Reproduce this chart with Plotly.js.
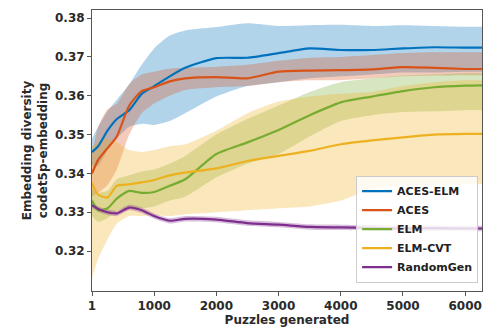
<!DOCTYPE html>
<html>
<head>
<meta charset="utf-8">
<script src="https://cdn.plot.ly/plotly-3.0.1.min.js"></script>
<style>html,body{margin:0;padding:0;background:#fff;}#chart{width:487px;height:332px;}</style>
</head>
<body>
<div id="chart"></div>
<script>
const xs = [1, 100, 250, 400, 600, 800, 1000, 1250, 1500, 2000, 2500, 3000, 3500, 4000, 4500, 5000, 5500, 6000, 6270];

const names = ["ACES-ELM", "ACES", "ELM", "ELM-CVT", "RandomGen"];
const yTitle = "Embedding diversity<br>codet5p-embedding";
const xTitle = "Puzzles generated";

const acesElmMean  = [0.3455,0.347,0.351,0.354,0.3563,0.3605,0.3625,0.365,0.3672,0.3697,0.3698,0.371,0.3722,0.3718,0.3718,0.3722,0.3725,0.3724,0.3724];
const acesElmUpper = [0.349,0.352,0.356,0.359,0.363,0.368,0.3722,0.3755,0.3768,0.3777,0.3787,0.378,0.3782,0.3783,0.378,0.3782,0.378,0.3778,0.3778];
const acesElmLower = [0.342,0.342,0.346,0.349,0.352,0.3528,0.3525,0.3535,0.3555,0.3598,0.3625,0.3635,0.3645,0.365,0.3655,0.366,0.366,0.3662,0.3662];

const acesMean  = [0.340,0.3435,0.3465,0.3495,0.3575,0.3612,0.3622,0.3637,0.3645,0.3648,0.3645,0.3662,0.3665,0.3666,0.3668,0.3674,0.3672,0.3669,0.3669];
const acesUpper = [0.345,0.352,0.3565,0.358,0.363,0.3655,0.3662,0.367,0.3672,0.3675,0.368,0.369,0.3698,0.370,0.3705,0.371,0.3712,0.3712,0.3712];
const acesLower = [0.334,0.335,0.337,0.341,0.350,0.3555,0.358,0.3600,0.3615,0.3622,0.3625,0.3635,0.364,0.364,0.3645,0.365,0.3652,0.3653,0.3653];

const elmMean  = [0.333,0.3305,0.331,0.3335,0.3355,0.335,0.3352,0.3368,0.3385,0.345,0.348,0.3512,0.355,0.3583,0.3598,0.3612,0.3622,0.3626,0.3627];
const elmUpper = [0.336,0.335,0.3355,0.3385,0.3395,0.3405,0.341,0.3425,0.3445,0.350,0.354,0.3575,0.361,0.3635,0.3645,0.3652,0.3655,0.3658,0.3658];
const elmLower = [0.329,0.3275,0.3285,0.3305,0.331,0.331,0.3315,0.333,0.334,0.339,0.3425,0.345,0.3495,0.3535,0.355,0.3558,0.356,0.3563,0.3563];

const cvtMean  = [0.3375,0.3345,0.3338,0.3368,0.3372,0.3377,0.3383,0.3395,0.3402,0.3413,0.3432,0.3445,0.3458,0.3475,0.3485,0.3493,0.350,0.3502,0.3502];
const cvtUpper = [0.347,0.348,0.349,0.348,0.346,0.3455,0.346,0.347,0.3475,0.351,0.3555,0.3585,0.3598,0.3605,0.361,0.3625,0.3635,0.364,0.364];
const cvtLower = [0.313,0.318,0.323,0.327,0.329,0.329,0.3292,0.329,0.3295,0.330,0.3305,0.331,0.3315,0.333,0.336,0.3368,0.337,0.3372,0.3372];

const randMean  = [0.3318,0.3308,0.330,0.3297,0.3312,0.3305,0.329,0.3278,0.3283,0.3281,0.3272,0.3268,0.3262,0.3261,0.326,0.3258,0.3259,0.3258,0.3258];
const randUpper = [0.3326,0.3315,0.3307,0.3304,0.3319,0.3312,0.3297,0.3285,0.329,0.3288,0.3279,0.3275,0.3269,0.3268,0.3267,0.3265,0.3266,0.3265,0.3265];
const randLower = [0.3310,0.3301,0.3293,0.329,0.3305,0.3298,0.3283,0.3271,0.3276,0.3274,0.3265,0.3261,0.3255,0.3254,0.3253,0.3251,0.3252,0.3251,0.3251];

const colors = ["#0072BD", "#D95319", "#77AC30", "#EDB120", "#7E2F8E"];
const fills  = ["rgba(0,114,189,0.3)", "rgba(217,83,25,0.3)", "rgba(119,172,48,0.3)", "rgba(237,177,32,0.3)", "rgba(126,47,142,0.3)"];

const series = [
  [acesElmMean, acesElmUpper, acesElmLower],
  [acesMean, acesUpper, acesLower],
  [elmMean, elmUpper, elmLower],
  [cvtMean, cvtUpper, cvtLower],
  [randMean, randUpper, randLower]
];

const traces = [];
series.forEach((s, i) => {
  traces.push({x: xs, y: s[2], type: 'scatter', mode: 'lines', line: {width: 0, shape: 'spline', smoothing: 0.6}, showlegend: false, hoverinfo: 'skip'});
  traces.push({x: xs, y: s[1], type: 'scatter', mode: 'lines', line: {width: 0, shape: 'spline', smoothing: 0.6}, fill: 'tonexty', fillcolor: fills[i], showlegend: false, hoverinfo: 'skip'});
});
series.forEach((s, i) => {
  traces.push({x: xs, y: s[0], type: 'scatter', mode: 'lines', name: names[i], line: {color: colors[i], width: 2.2, shape: 'spline', smoothing: 0.6}});
});

const font = {family: 'DejaVu Sans', size: 12, color: '#2a2a2a', weight: 'bold'};
const layout = {
  width: 487, height: 332,
  margin: {l: 92, r: 5, t: 10, b: 41},
  paper_bgcolor: '#fff', plot_bgcolor: '#fff',
  showlegend: true,
  xaxis: {
    range: [1, 6270], tickvals: [1, 1000, 2000, 3000, 4000, 5000, 6000],
    ticktext: ['1', '1000', '2000', '3000', '4000', '5000', '6000'],
    showgrid: false, zeroline: false, showline: true, mirror: true, linecolor: '#555', linewidth: 1,
    ticks: 'outside', ticklen: 4, tickcolor: '#555', tickfont: font,
    title: {text: xTitle, font: font, standoff: 2}
  },
  yaxis: {
    range: [0.3097, 0.3821], tickvals: [0.32, 0.33, 0.34, 0.35, 0.36, 0.37, 0.38],
    tickformat: '.2f',
    showgrid: false, zeroline: false, showline: true, mirror: true, linecolor: '#555', linewidth: 1,
    ticks: 'outside', ticklen: 4, tickcolor: '#555', tickfont: font
  },
  annotations: [{
    text: yTitle, xref: 'paper', yref: 'paper', x: -0.147, y: 0.5,
    xanchor: 'center', yanchor: 'middle', textangle: -90, showarrow: false,
    font: font
  }],
  legend: {
    x: 0.99, y: 0.03, xanchor: 'right', yanchor: 'bottom',
    traceorder: 'normal',
    bgcolor: 'rgba(255,255,255,0.8)', bordercolor: '#ccc', borderwidth: 1,
    font: {family: 'DejaVu Sans', size: 11, color: '#222', weight: 'bold'},
    tracegroupgap: 0
  }
};

Plotly.newPlot('chart', traces, layout, {displayModeBar: false, staticPlot: true});
</script>
</body>
</html>
